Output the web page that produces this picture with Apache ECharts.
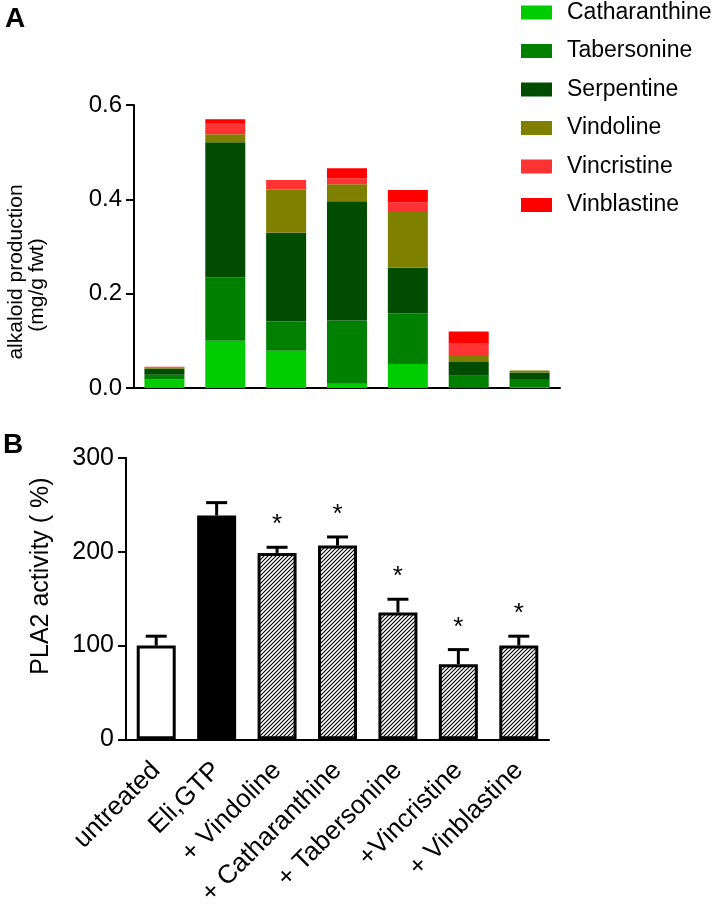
<!DOCTYPE html>
<html>
<head>
<meta charset="utf-8">
<script src="https://cdn.jsdelivr.net/npm/echarts@6/dist/echarts.min.js"></script>
<style>
  html, body { margin: 0; padding: 0; background: #fff; }
  #chart { width: 717px; height: 909px; }
</style>
</head>
<body>
<div id="chart"></div>
<script>
// treatments (shared by both panels)
var categories = ['untreated', 'Eli,GTP', '+ Vindoline', '+ Catharanthine', '+ Tabersonine', '+Vincristine', '+ Vinblastine'];

// panel A: alkaloid production (mg/g fwt), stacked segments
var alkaloidNames = ['Catharanthine', 'Tabersonine', 'Serpentine', 'Vindoline', 'Vincristine', 'Vinblastine'];
var catharanthine = [0.018, 0.100, 0.079, 0.009, 0.051, 0.000, 0.002];
var tabersonine   = [0.010, 0.135, 0.062, 0.134, 0.107, 0.026, 0.017];
var serpentine    = [0.013, 0.286, 0.188, 0.253, 0.097, 0.029, 0.014];
var vindoline     = [0.003, 0.017, 0.092, 0.036, 0.118, 0.015, 0.004];
var vincristine   = [0.001, 0.024, 0.020, 0.012, 0.021, 0.024, 0.000];
var vinblastine   = [0.000, 0.008, 0.000, 0.022, 0.026, 0.026, 0.000];
var alkaloidColors = ['#00CC00', '#008000', '#004C00', '#808000', '#FF3333', '#FF0000'];

// panel B: PLA2 activity (%)
var plaMean = [100, 238.7, 198.8, 206.6, 135.3, 80.2, 100];
var plaErr  = [10, 13.7, 6, 9.2, 14.1, 15.5, 10];
var plaStar = [false, false, true, true, true, true, true];

var ticksA = [0, 0.2, 0.4, 0.6];
var ticksB = [0, 100, 200, 300];

// hatch pattern for the treated bars
function hatch() {
  var c = document.createElement('canvas');
  c.width = 4; c.height = 4;
  var ctx = c.getContext('2d');
  ctx.fillStyle = '#fff';
  ctx.fillRect(0, 0, 4, 4);
  ctx.strokeStyle = '#000';
  ctx.lineWidth = 1.1;
  ctx.beginPath();
  ctx.moveTo(0, 4); ctx.lineTo(4, 0);
  ctx.moveTo(-1, 1); ctx.lineTo(1, -1);
  ctx.moveTo(3, 5); ctx.lineTo(5, 3);
  ctx.stroke();
  return c;
}
var hatchFill = { image: hatch(), repeat: 'repeat' };

var FONT = '"Liberation Sans", Arial, Helvetica, sans-serif';
var myChart = echarts.init(document.getElementById('chart'));

var stackData = [catharanthine, tabersonine, serpentine, vindoline, vincristine, vinblastine];
var seriesA = alkaloidNames.map(function (name, i) {
  return {
    name: name,
    type: 'bar',
    stack: 'alk',
    xAxisIndex: 0,
    yAxisIndex: 0,
    barWidth: 40,
    data: stackData[i],
    itemStyle: { color: alkaloidColors[i] }
  };
});

var barDataB = plaMean.map(function (v, i) {
  var st;
  if (i === 0) st = { color: '#fff', borderColor: '#000', borderWidth: 3 };
  else if (i === 1) st = { color: '#000', borderColor: '#000', borderWidth: 3 };
  else st = { color: hatchFill, borderColor: '#000', borderWidth: 3 };
  return { value: v, itemStyle: st };
});

var errData = plaMean.map(function (v, i) {
  return [i, v, plaErr[i], plaStar[i] ? 1 : 0];
});

var axisLineStyle = { color: '#000', width: 2 };

var option = {
  backgroundColor: '#fff',
  animation: false,
  textStyle: { fontFamily: FONT },
  legend: {
    data: alkaloidNames,
    orient: 'vertical',
    left: 516,
    top: -4,
    itemWidth: 31,
    itemHeight: 14,
    itemGap: 15.5,
    icon: 'rect',
    textStyle: { fontSize: 23, color: '#000', fontFamily: FONT, padding: [0, 0, 0, 10] }
  },
  grid: [
    { left: 134, right: 157, top: 105, bottom: 521 },
    { left: 126, right: 168, top: 458, bottom: 168 }
  ],
  xAxis: [
    {
      type: 'category',
      gridIndex: 0,
      data: categories,
      axisLine: { lineStyle: axisLineStyle },
      axisTick: { alignWithLabel: true, length: 8, lineStyle: axisLineStyle },
      axisLabel: { show: false }
    },
    {
      type: 'category',
      gridIndex: 1,
      data: categories,
      axisLine: { lineStyle: axisLineStyle },
      axisTick: { alignWithLabel: true, length: 8, lineStyle: axisLineStyle },
      axisLabel: { rotate: 45, fontSize: 26, color: '#000', margin: 27, interval: 0, fontFamily: FONT }
    }
  ],
  yAxis: [
    {
      type: 'value',
      gridIndex: 0,
      min: ticksA[0],
      max: ticksA[ticksA.length - 1],
      interval: 0.2,
      splitLine: { show: false },
      axisLine: { show: true, lineStyle: axisLineStyle },
      axisTick: { show: true, length: 8, lineStyle: axisLineStyle },
      axisLabel: {
        fontSize: 24, color: '#000', margin: 12, fontFamily: FONT,
        formatter: function (v) { return v.toFixed(1); }
      }
    },
    {
      type: 'value',
      gridIndex: 1,
      min: ticksB[0],
      max: ticksB[ticksB.length - 1],
      interval: 100,
      splitLine: { show: false },
      axisLine: { show: true, lineStyle: axisLineStyle },
      axisTick: { show: true, length: 8, lineStyle: axisLineStyle },
      axisLabel: { fontSize: 25, color: '#000', margin: 12, fontFamily: FONT }
    }
  ],
  graphic: [
    { type: 'text', left: 5, top: 5, style: { text: 'A', font: 'bold 28px ' + FONT, fill: '#000' } },
    { type: 'text', left: 3, top: 431, style: { text: 'B', font: 'bold 28px ' + FONT, fill: '#000' } },
    {
      type: 'text', x: 16, y: 272, rotation: Math.PI / 2,
      style: { text: 'alkaloid production', font: '21px ' + FONT, fill: '#000', align: 'center', verticalAlign: 'middle' }
    },
    {
      type: 'text', x: 37, y: 285, rotation: Math.PI / 2,
      style: { text: '(mg/g fwt)', font: '21px ' + FONT, fill: '#000', align: 'center', verticalAlign: 'middle' }
    },
    {
      type: 'text', x: 41, y: 576, rotation: Math.PI / 2,
      style: { text: 'PLA2 activity ( %)', font: '25px ' + FONT, fill: '#000', align: 'center', verticalAlign: 'middle' }
    }
  ],
  series: seriesA.concat([
    {
      name: 'PLA2',
      type: 'bar',
      xAxisIndex: 1,
      yAxisIndex: 1,
      barWidth: 39,
      data: barDataB
    },
    {
      name: 'err',
      type: 'custom',
      xAxisIndex: 1,
      yAxisIndex: 1,
      z: 1,
      clip: false,
      data: errData,
      encode: { x: 0, y: 1 },
      renderItem: function (params, api) {
        var idx = api.value(0);
        var base = api.coord([idx, api.value(1)]);
        var top = api.coord([idx, api.value(1) + api.value(2)]);
        var half = 10.5;
        var children = [
          { type: 'line', shape: { x1: base[0], y1: base[1], x2: top[0], y2: top[1] }, style: { stroke: '#000', lineWidth: 3 } },
          { type: 'line', shape: { x1: top[0] - half, y1: top[1], x2: top[0] + half, y2: top[1] }, style: { stroke: '#000', lineWidth: 3 } }
        ];
        if (api.value(3)) {
          children.push({
            type: 'text', x: top[0], y: top[1] - 22,
            style: { text: '*', font: '26px ' + FONT, fill: '#000', align: 'center', verticalAlign: 'middle' }
          });
        }
        return { type: 'group', children: children };
      }
    }
  ])
};

myChart.setOption(option);
</script>
</body>
</html>
